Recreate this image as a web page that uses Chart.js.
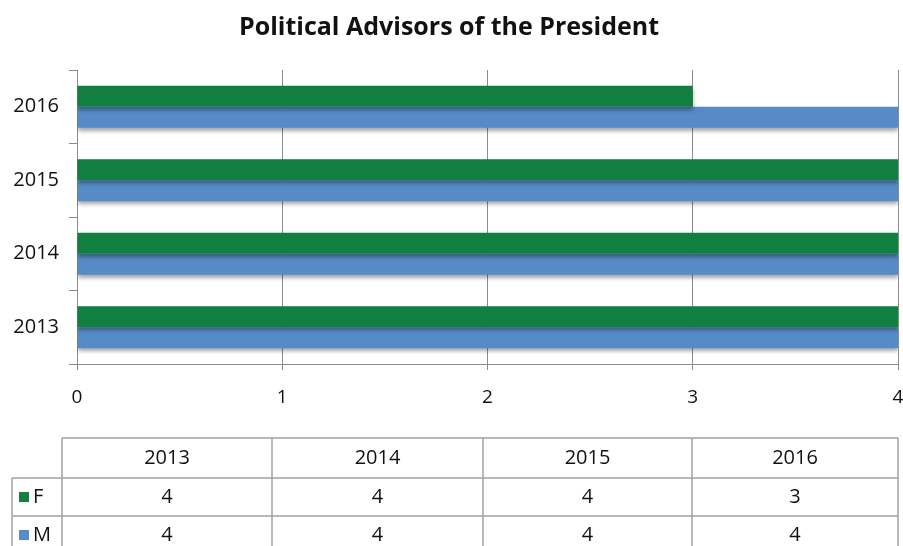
<!DOCTYPE html>
<html>
<head>
<meta charset="utf-8">
<script src="https://cdn.jsdelivr.net/npm/chart.js@4/dist/chart.umd.min.js"></script>
<style>
  html, body { margin: 0; padding: 0; background: #fff; }
  #wrap { width: 903px; height: 546px; }
</style>
</head>
<body>
<div id="wrap"><canvas id="advisorChart" width="903" height="546"></canvas></div>
<script>
// ---- data ----
const years   = ['2013', '2014', '2015', '2016'];
const femVals = [4, 4, 4, 3];
const maleVals = [4, 4, 4, 4];
const xTicks  = [0, 1, 2, 3, 4];
const seriesNames = ['F', 'M'];

const GREEN = '#107f40';
const BLUE  = '#568bc8';
const FONT  = '"Open Sans", Lato, sans-serif';
const INK   = '#111';

// shadow under the bars
const barShadow = {
    id: 'barShadow',
    beforeDatasetsDraw(chart) {
        const c = chart.ctx;
        c.save();
        c.shadowColor = 'rgba(0,0,0,0.35)';
        c.shadowBlur = 4;
        c.shadowOffsetY = 3;
    },
    afterDatasetsDraw(chart) { chart.ctx.restore(); }
};

// data table under the chart
const dataTable = {
    id: 'dataTable',
    afterDraw(chart) {
        const c = chart.ctx;
        const cols = [62, 272, 483, 692, 898];
        const rows = [438, 478, 516, 554];
        const legL = 12;
        c.save();
        c.strokeStyle = '#a3a3a3';
        c.lineWidth = 1.5;
        c.beginPath();
        c.moveTo(cols[0], rows[0]); c.lineTo(cols[4], rows[0]);
        c.moveTo(legL, rows[1]); c.lineTo(cols[4], rows[1]);
        c.moveTo(legL, rows[2]); c.lineTo(cols[4], rows[2]);
        c.moveTo(legL, rows[1]); c.lineTo(legL, rows[3]);
        cols.forEach(x => { c.moveTo(x, rows[0]); c.lineTo(x, rows[3]); });
        c.stroke();

        c.fillStyle = INK;
        c.font = '20px ' + FONT;
        c.textAlign = 'center';
        c.textBaseline = 'middle';
        years.forEach((y, i) => {
            c.fillText(y, (cols[i] + cols[i + 1]) / 2, (rows[0] + rows[1]) / 2);
        });
        chart.data.datasets.forEach((ds, r) => {
            const cy = (rows[r + 1] + rows[r + 2]) / 2;
            ds.data.forEach((v, i) => {
                c.fillStyle = INK;
                c.textAlign = 'center';
                c.fillText(String(v), (cols[i] + cols[i + 1]) / 2, cy);
            });
            c.fillStyle = ds.backgroundColor;
            c.fillRect(19, cy - 5, 10, 10);
            c.fillStyle = INK;
            c.textAlign = 'left';
            c.fillText(ds.label, 33, cy);
        });
        c.restore();
    }
};

new Chart(document.getElementById('advisorChart'), {
    type: 'bar',
    data: {
        labels: years,
        datasets: [
            { label: seriesNames[0], data: femVals,  backgroundColor: GREEN },
            { label: seriesNames[1], data: maleVals, backgroundColor: BLUE }
        ]
    },
    options: {
        indexAxis: 'y',
        responsive: false,
        animation: false,
        devicePixelRatio: 1,
        layout: { padding: { left: 0, right: 5, top: 0, bottom: 137 } },
        datasets: { bar: { categoryPercentage: 0.57, barPercentage: 1.0 } },
        scales: {
            x: {
                min: 0, max: 4,
                afterBuildTicks(scale) { scale.ticks = xTicks.map(v => ({ value: v })); },
                afterFit(scale) { scale.height = 45; scale.paddingLeft = 0; scale.paddingRight = 0; },
                grid: { color: '#8c8c8c', lineWidth: 1, tickLength: 6, drawTicks: true },
                border: { color: '#8c8c8c', width: 1 },
                ticks: { color: INK, font: { family: FONT, size: 19 }, padding: 16 }
            },
            y: {
                reverse: true,
                afterFit(scale) { scale.width = 77; },
                grid: { offset: true, drawOnChartArea: false, color: '#8c8c8c', tickLength: 8 },
                border: { color: '#8c8c8c', width: 1 },
                ticks: { color: INK, font: { family: FONT, size: 20 }, padding: 10 }
            }
        },
        plugins: {
            legend: { display: false },
            tooltip: { enabled: false },
            title: {
                display: true,
                text: 'Political Advisors of the President',
                color: INK,
                font: { family: FONT, size: 25, weight: 'bold' },
                padding: { top: 13, bottom: 27 }
            }
        }
    },
    plugins: [barShadow, dataTable]
});
</script>
</body>
</html>
